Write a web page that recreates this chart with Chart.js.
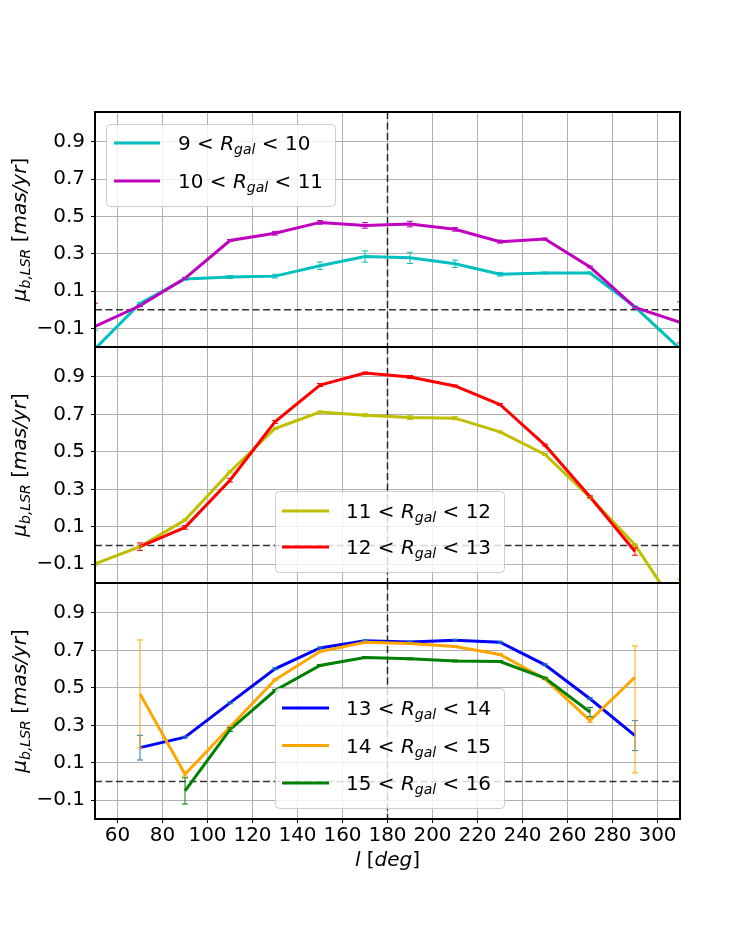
<!DOCTYPE html>
<html>
<head>
<meta charset="utf-8">
<script src="https://cdn.jsdelivr.net/npm/chart.js@4.4.0/dist/chart.umd.min.js"></script>
<style>
body{margin:0;background:#fff;}
#wrap{position:relative;width:756px;height:936px;}
#wrap canvas{position:absolute;left:0;top:0;}
</style>
</head>
<body>
<div id="wrap">
<canvas id="p1" width="756" height="936"></canvas>
<canvas id="p2" width="756" height="936"></canvas>
<canvas id="p3" width="756" height="936"></canvas>
</div>
<script>
// galactic longitude bins (deg)
var lon = [50, 70, 90, 110, 130, 150, 170, 190, 210, 230, 250, 270, 290, 310];
var xTicks = [60, 80, 100, 120, 140, 160, 180, 200, 220, 240, 260, 280, 300];
var yTicks = [-0.1, 0.1, 0.3, 0.5, 0.7, 0.9];
var xRange = [50, 310];
var yRange = [-0.2, 1.06];
var refX = 180, refY = 0;

// R_gal bins for legend labels
var rLow  = [9, 10, 11, 12, 13, 14, 15];
var rHigh = [10, 11, 12, 13, 14, 15, 16];

// mu_b,LSR per R_gal bin (mas/yr), null = no point
var mu_9_10  = [-0.21, 0.033, 0.165, 0.175, 0.18, 0.236, 0.285, 0.278, 0.246, 0.19, 0.197, 0.197, 0.015, -0.21];
var err_9_10 = [0.1, 0.005, 0.005, 0.008, 0.01, 0.02, 0.03, 0.03, 0.02, 0.01, 0.005, 0.005, 0.005, 0.1];
var mu_10_11  = [-0.09, 0.021, 0.168, 0.371, 0.41, 0.468, 0.452, 0.459, 0.431, 0.365, 0.379, 0.229, 0.012, -0.068];
var err_10_11 = [0.125, 0.005, 0.005, 0.005, 0.01, 0.01, 0.015, 0.015, 0.01, 0.008, 0.005, 0.005, 0.005, 0.11];

var mu_11_12  = [-0.098, -0.006, 0.136, 0.394, 0.625, 0.713, 0.696, 0.683, 0.68, 0.607, 0.486, 0.257, 0.003, -0.36];
var err_11_12 = [0.01, 0.005, 0.005, 0.005, 0.005, 0.005, 0.008, 0.01, 0.008, 0.005, 0.005, 0.005, 0.005, 0.18];
var mu_12_13  = [null, -0.006, 0.097, 0.349, 0.66, 0.857, 0.921, 0.9, 0.852, 0.753, 0.536, 0.26, -0.032, null];
var err_12_13 = [null, 0.02, 0.01, 0.01, 0.008, 0.008, 0.005, 0.008, 0.005, 0.005, 0.005, 0.005, 0.02, null];

var mu_13_14  = [null, 0.181, 0.237, 0.42, 0.602, 0.713, 0.751, 0.745, 0.754, 0.744, 0.623, 0.442, 0.245, null];
var err_13_14 = [null, 0.066, 0.005, 0.005, 0.005, 0.005, 0.005, 0.005, 0.005, 0.005, 0.005, 0.005, 0.08, null];
var mu_14_15  = [null, 0.468, 0.039, 0.291, 0.543, 0.694, 0.744, 0.737, 0.721, 0.678, 0.548, 0.326, 0.557, null];
var err_14_15 = [null, 0.288, 0.01, 0.005, 0.005, 0.005, 0.005, 0.005, 0.005, 0.005, 0.005, 0.01, [0.51, 0.167], null];
var mu_15_16  = [null, null, -0.05, 0.277, 0.486, 0.62, 0.662, 0.655, 0.644, 0.641, 0.552, 0.371, null, null];
var err_15_16 = [null, null, 0.07, 0.01, 0.005, 0.005, 0.005, 0.005, 0.005, 0.005, 0.005, 0.025, null, null];

var FONT = '"DejaVu Sans"';

function segFont(s, size){
    var sz = s.sub ? size*0.7 : size;
    return (s.it ? 'italic ' : '') + sz + 'px ' + FONT;
}
function segsWidth(ctx, segs, size){
    var w = 0;
    segs.forEach(function(s){ ctx.font = segFont(s, size); w += ctx.measureText(s.t).width; });
    return w;
}
function drawSegs(ctx, segs, x, y, size){
    ctx.textBaseline = 'alphabetic';
    ctx.textAlign = 'left';
    segs.forEach(function(s){
        ctx.font = segFont(s, size);
        ctx.fillText(s.t, x, y + (s.sub ? size*0.22 : 0));
        x += ctx.measureText(s.t).width;
    });
}
function binLabel(k){
    return [{t: rLow[k] + ' < '}, {t: 'R', it: true}, {t: 'gal', it: true, sub: true}, {t: ' < ' + rHigh[k]}];
}
var yTitle = [{t: 'μ', it: true}, {t: 'b,LSR', it: true, sub: true}, {t: ' ['}, {t: 'mas/yr', it: true}, {t: ']'}];
var xTitle = [{t: 'l', it: true}, {t: ' ['}, {t: 'deg', it: true}, {t: ']'}];

function fmtY(v){
    return v < 0 ? '\u2212' + Math.abs(v).toFixed(1) : v.toFixed(1);
}

var panels = [
    {id: 'p1', top: 112, bottom: 347, last: false,
     series: [{mu: mu_9_10, err: err_9_10, bin: 0, color: '#00bfbf'},
              {mu: mu_10_11, err: err_10_11, bin: 1, color: '#bf00bf'}],
     legend: {x: 106, y: 124, w: 229, h: 82, rows: [143, 181], lx: [114, 160], tx: 178}},
    {id: 'p2', top: 347, bottom: 583, last: false,
     series: [{mu: mu_11_12, err: err_11_12, bin: 2, color: '#bfbf00'},
              {mu: mu_12_13, err: err_12_13, bin: 3, color: '#ff0000'}],
     legend: {x: 275, y: 491, w: 229, h: 81, rows: [511, 547], lx: [282, 329], tx: 346}},
    {id: 'p3', top: 583, bottom: 819, last: true,
     series: [{mu: mu_13_14, err: err_13_14, bin: 4, color: '#0000ff', errColor: '#1f77b4'},
              {mu: mu_14_15, err: err_14_15, bin: 5, color: '#ffa500'},
              {mu: mu_15_16, err: err_15_16, bin: 6, color: '#008000'}],
     legend: {x: 275, y: 688, w: 229, h: 120, rows: [708, 745.5, 783], lx: [282, 329], tx: 346}}
];

function makeDeco(p){
    return {
        id: 'deco_' + p.id,
        beforeDatasetsDraw: function(chart){
            var ctx = chart.ctx, a = chart.chartArea;
            var xs = chart.scales.x, ys = chart.scales.y;
            ctx.save();
            ctx.strokeStyle = 'rgba(0,0,0,0.8)';
            ctx.lineWidth = 1.5;
            ctx.setLineDash([7, 3.5]);
            var py = ys.getPixelForValue(refY);
            ctx.beginPath(); ctx.moveTo(a.left, py); ctx.lineTo(a.right, py); ctx.stroke();
            var px = xs.getPixelForValue(refX);
            ctx.beginPath(); ctx.moveTo(px, a.top); ctx.lineTo(px, a.bottom); ctx.stroke();
            ctx.restore();
        },
        afterDatasetsDraw: function(chart){
            var ctx = chart.ctx, a = chart.chartArea;
            var xs = chart.scales.x, ys = chart.scales.y;
            // error bars
            ctx.save();
            ctx.beginPath(); ctx.rect(a.left, a.top, a.right - a.left, a.bottom - a.top); ctx.clip();
            ctx.lineWidth = 1;
            chart.data.datasets.forEach(function(ds){
                ctx.strokeStyle = ds.errColor || ds.borderColor;
                ds.data.forEach(function(pt){
                    if (pt.e == null) return;
                    var lo = Array.isArray(pt.e) ? pt.e[0] : pt.e;
                    var hi = Array.isArray(pt.e) ? pt.e[1] : pt.e;
                    var x = xs.getPixelForValue(pt.x);
                    var y1 = ys.getPixelForValue(pt.y - lo), y2 = ys.getPixelForValue(pt.y + hi);
                    ctx.beginPath();
                    ctx.moveTo(x, y1); ctx.lineTo(x, y2);
                    ctx.moveTo(x - 3, y1); ctx.lineTo(x + 3, y1);
                    ctx.moveTo(x - 3, y2); ctx.lineTo(x + 3, y2);
                    ctx.stroke();
                });
            });
            ctx.restore();
            // frame
            ctx.save();
            ctx.strokeStyle = '#000';
            ctx.lineWidth = 2;
            ctx.strokeRect(a.left, a.top, a.right - a.left, a.bottom - a.top);
            ctx.restore();
            // legend
            var L = p.legend;
            ctx.save();
            ctx.fillStyle = 'rgba(255,255,255,0.8)';
            ctx.strokeStyle = '#cccccc';
            ctx.lineWidth = 1;
            ctx.beginPath();
            ctx.roundRect(L.x + 0.5, L.y + 0.5, L.w, L.h, 4);
            ctx.fill(); ctx.stroke();
            p.series.forEach(function(s, i){
                var ry = L.rows[i];
                ctx.strokeStyle = s.color;
                ctx.lineWidth = 3;
                ctx.beginPath(); ctx.moveTo(L.lx[0], ry); ctx.lineTo(L.lx[1], ry); ctx.stroke();
                ctx.fillStyle = '#000';
                drawSegs(ctx, binLabel(s.bin), L.tx, ry + 7, 20);
            });
            ctx.restore();
            // y title
            ctx.save();
            ctx.fillStyle = '#000';
            var w = segsWidth(ctx, yTitle, 20);
            ctx.translate(26, (a.top + a.bottom) / 2);
            ctx.rotate(-Math.PI / 2);
            drawSegs(ctx, yTitle, -w / 2, 0, 20);
            ctx.restore();
            // x title
            if (p.last){
                ctx.save();
                ctx.fillStyle = '#000';
                var wx = segsWidth(ctx, xTitle, 20);
                drawSegs(ctx, xTitle, (a.left + a.right) / 2 - wx / 2, 866, 20);
                ctx.restore();
            }
        }
    };
}

panels.forEach(function(p){
    var n = p.series.length;
    var datasets = p.series.map(function(s, i){
        var pts = [];
        lon.forEach(function(l, j){
            if (s.mu[j] != null) pts.push({x: l, y: s.mu[j], e: s.err[j]});
        });
        return {
            data: pts,
            borderColor: s.color,
            errColor: s.errColor,
            borderWidth: 3,
            pointRadius: 0,
            tension: 0,
            fill: false,
            order: n - i
        };
    });
    new Chart(document.getElementById(p.id), {
        type: 'line',
        data: {datasets: datasets},
        options: {
            responsive: false,
            animation: false,
            events: [],
            layout: {padding: {left: 0, right: 76, top: p.top, bottom: p.last ? 936 - p.bottom - 40 : 936 - p.bottom}},
            plugins: {legend: {display: false}, tooltip: {enabled: false}},
            scales: {
                x: {
                    type: 'linear',
                    min: xRange[0], max: xRange[1],
                    afterBuildTicks: function(s){ s.ticks = xTicks.map(function(v){ return {value: v}; }); },
                    afterFit: function(s){ s.height = p.last ? 40 : 0; },
                    border: {display: false},
                    grid: {color: '#b0b0b0', lineWidth: 1, drawTicks: p.last, tickLength: 4, tickColor: '#000'},
                    ticks: {display: p.last, color: '#000', padding: 1, maxRotation: 0, autoSkip: false,
                            font: {family: 'DejaVu Sans', size: 20},
                            callback: function(v){ return String(v); }}
                },
                y: {
                    min: yRange[0], max: yRange[1],
                    afterBuildTicks: function(s){ s.ticks = yTicks.map(function(v){ return {value: v}; }); },
                    afterFit: function(s){ s.width = 95; },
                    border: {display: false},
                    grid: {color: '#b0b0b0', lineWidth: 1, drawTicks: true, tickLength: 4, tickColor: '#000'},
                    ticks: {color: '#000', padding: 6, autoSkip: false,
                            font: {family: 'DejaVu Sans', size: 20},
                            callback: function(v){ return fmtY(v); }}
                }
            }
        },
        plugins: [makeDeco(p)]
    });
});
</script>
</body>
</html>
